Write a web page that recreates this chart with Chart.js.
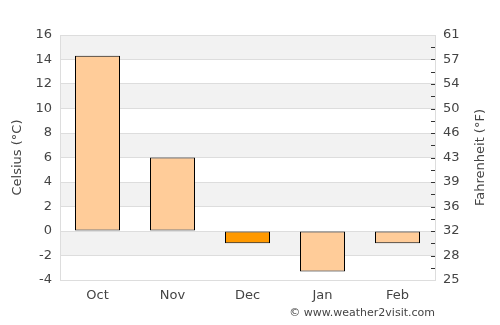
<!DOCTYPE html>
<html>
<head>
<meta charset="utf-8">
<script src="https://cdn.jsdelivr.net/npm/chart.js@4"></script>
<style>
  html, body { margin: 0; padding: 0; background: #fff; }
  #wrap { width: 500px; height: 325px; position: relative; }
</style>
</head>
<body>
<div id="wrap"><canvas id="climateChart"></canvas></div>
<script>
const months = ['Oct', 'Nov', 'Dec', 'Jan', 'Feb'];
const celsius = [14.3, 6.0, -1.0, -3.3, -1.0];
const barColors = ['#ffcc99', '#ffcc99', '#ff9900', '#ffcc99', '#ffcc99'];
const celsiusMin = -4;
const celsiusMax = 16;
const celsiusStep = 2;

const font = { family: 'DejaVu Sans', size: 13 };
const textColor = '#444';

function toF(c) {
  return Math.round(c * 9 / 5 + 32);
}

// grey bands between every other pair of gridlines
const bandsPlugin = {
  id: 'bands',
  beforeDraw(chart) {
    const { ctx, chartArea, scales } = chart;
    const y = scales.y;
    ctx.save();
    ctx.fillStyle = '#f2f2f2';
    for (let v = celsiusMax; v > celsiusMin; v -= celsiusStep * 2) {
      const top = y.getPixelForValue(v);
      const bottom = y.getPixelForValue(v - celsiusStep);
      ctx.fillRect(chartArea.left, top, chartArea.right - chartArea.left, bottom - top);
    }
    ctx.restore();
  },
};

// small tick marks inside the right axis, right title, credit line
const extrasPlugin = {
  id: 'extras',
  afterDraw(chart) {
    const { ctx, chartArea, scales } = chart;
    const y = scales.yF;
    ctx.save();
    ctx.strokeStyle = '#333';
    ctx.lineWidth = 1;
    for (let v = celsiusMin + 1; v < celsiusMax; v += 1) {
      const py = Math.round(y.getPixelForValue(v)) + 0.5;
      ctx.beginPath();
      ctx.moveTo(chartArea.right - 4, py);
      ctx.lineTo(chartArea.right, py);
      ctx.stroke();
    }
    ctx.fillStyle = textColor;
    ctx.font = '13px "DejaVu Sans"';
    ctx.textAlign = 'center';
    ctx.textBaseline = 'middle';
    ctx.translate(481, (chartArea.top + chartArea.bottom) / 2);
    ctx.rotate(-Math.PI / 2);
    ctx.fillText('Fahrenheit (°F)', 0, 0);
    ctx.restore();

    ctx.save();
    ctx.fillStyle = textColor;
    ctx.font = '11px "DejaVu Sans"';
    ctx.textAlign = 'right';
    ctx.textBaseline = 'middle';
    ctx.fillText('\u00a9 www.weather2visit.com', chartArea.right, 313);
    ctx.restore();
  },
};

new Chart(document.getElementById('climateChart'), {
  type: 'bar',
  data: {
    labels: months,
    datasets: [{
      data: celsius,
      backgroundColor: barColors,
      borderColor: '#000',
      borderWidth: 1,
      borderSkipped: false,
      categoryPercentage: 0.6,
      barPercentage: 1,
      yAxisID: 'y',
    }],
  },
  options: {
    responsive: true,
    maintainAspectRatio: false,
    animation: false,
    layout: { padding: { top: 35, left: 0, right: 0, bottom: 0 } },
    plugins: {
      legend: { display: false },
      tooltip: { enabled: false },
    },
    scales: {
      x: {
        grid: { display: false, drawTicks: false },
        border: { display: false },
        ticks: { color: textColor, font: font, padding: 8 },
        afterFit(scale) { scale.height = 45; },
      },
      y: {
        position: 'left',
        min: celsiusMin,
        max: celsiusMax,
        ticks: { stepSize: celsiusStep, color: textColor, font: font, padding: 8 },
        grid: { color: '#dddddd', drawTicks: false },
        border: { color: '#dddddd' },
        title: {
          display: true,
          text: 'Celsius (°C)',
          color: textColor,
          font: font,
          padding: { top: 10, bottom: 0 },
        },
        afterFit(scale) { scale.width = 60; },
      },
      yF: {
        position: 'right',
        min: celsiusMin,
        max: celsiusMax,
        ticks: {
          stepSize: celsiusStep,
          color: textColor,
          font: font,
          padding: 8,
          callback: (v) => toF(v),
        },
        grid: { drawOnChartArea: false, drawTicks: false },
        border: { color: '#dddddd' },
        afterFit(scale) { scale.width = 65; },
      },
    },
  },
  plugins: [bandsPlugin, extrasPlugin],
});
</script>
</body>
</html>
